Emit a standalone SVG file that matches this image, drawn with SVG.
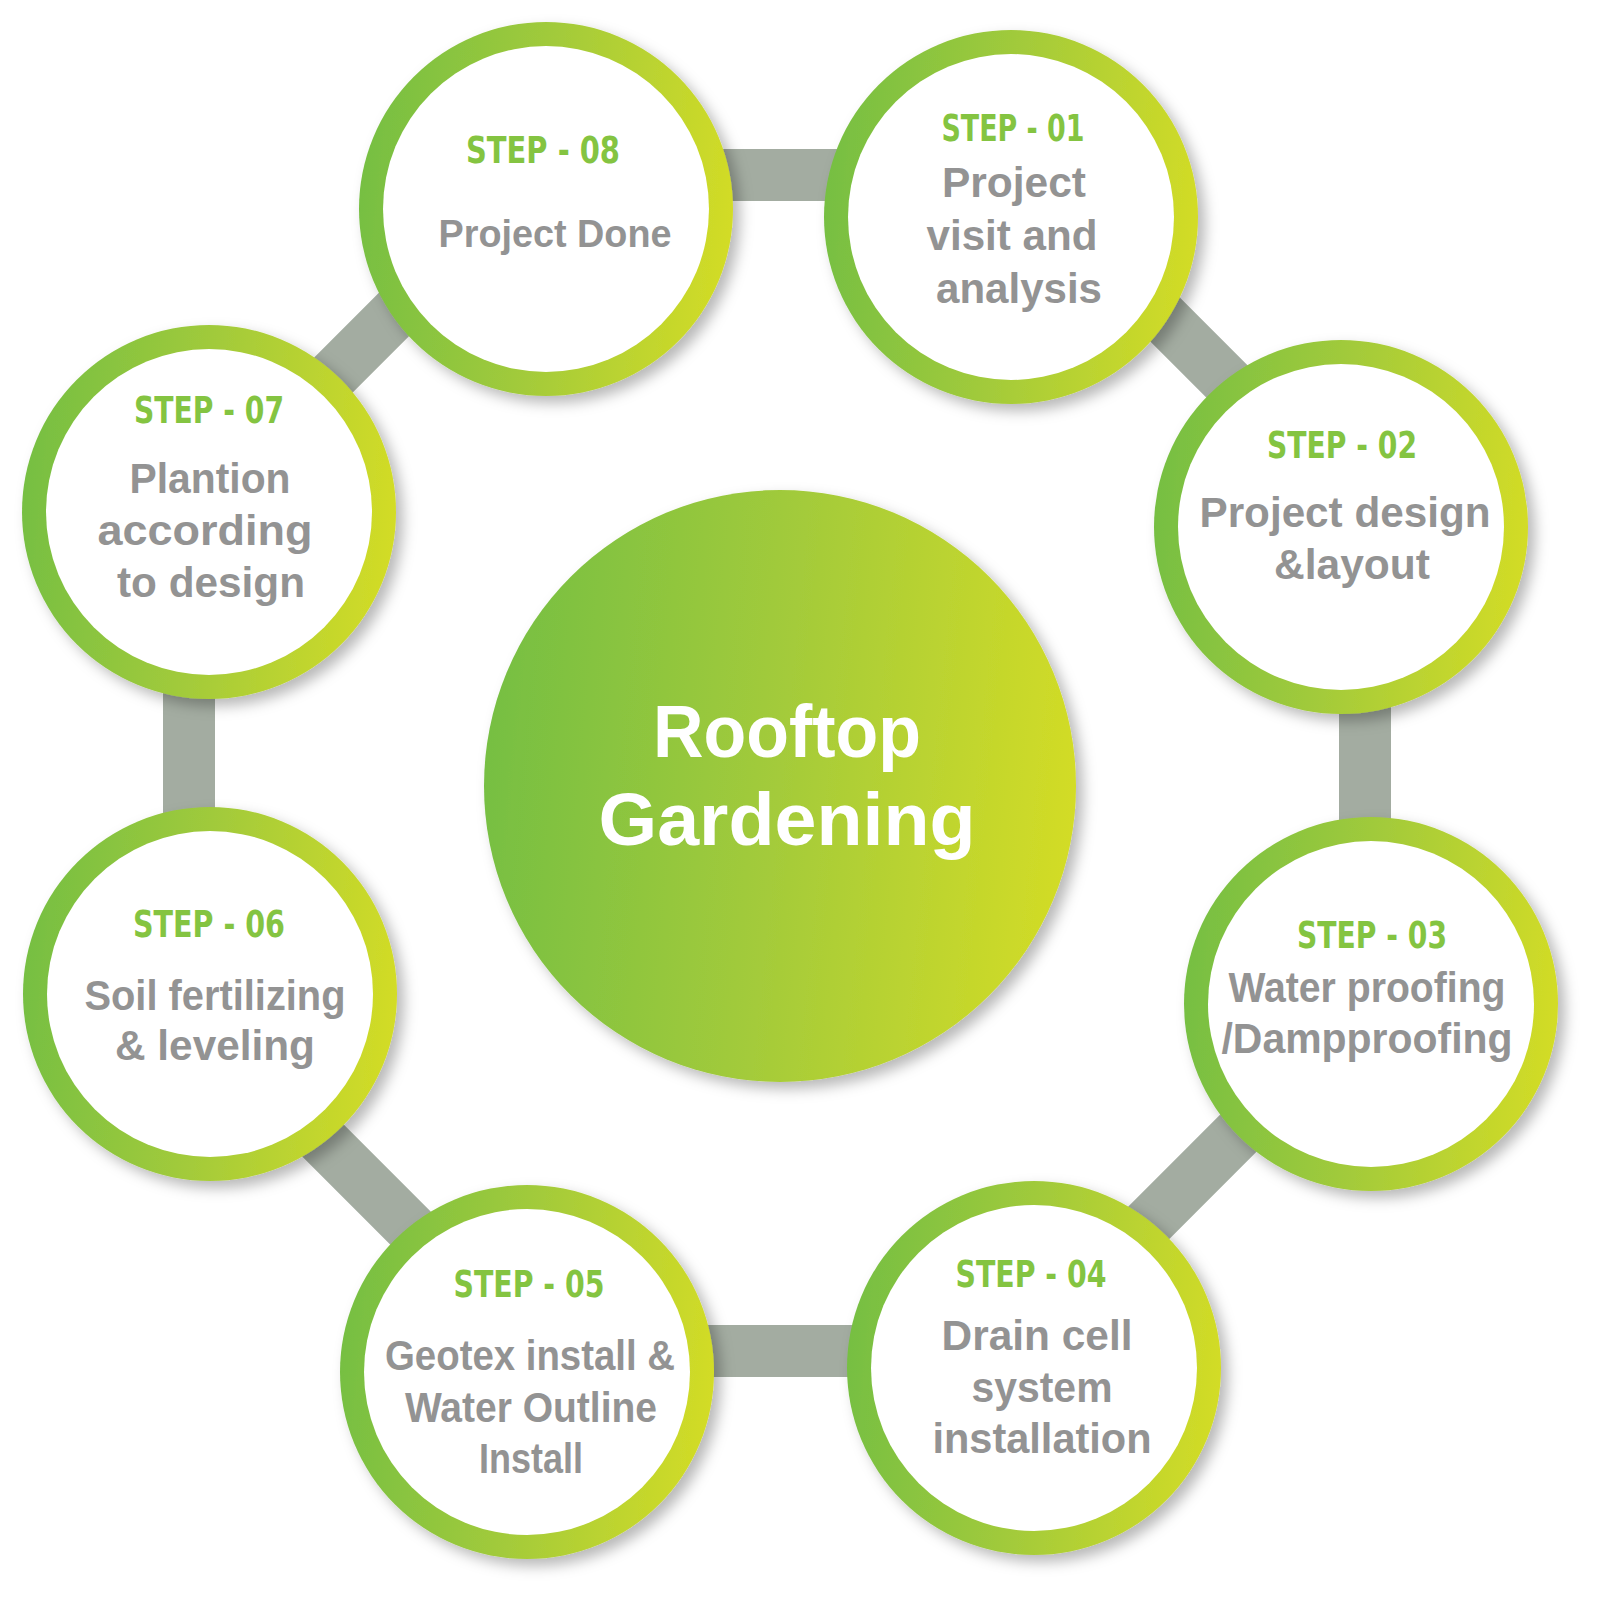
<svg xmlns="http://www.w3.org/2000/svg" width="1600" height="1603" viewBox="0 0 1600 1603">
<defs>
<linearGradient id="grad" x1="0" y1="0.45" x2="1" y2="0.55">
<stop offset="0" stop-color="#76bf43"/>
<stop offset="0.5" stop-color="#a4cb3a"/>
<stop offset="1" stop-color="#d3dc26"/>
</linearGradient>
<filter id="sh" x="-20%" y="-20%" width="140%" height="140%">
<feDropShadow dx="7" dy="7" stdDeviation="7" flood-color="#000" flood-opacity="0.28"/>
</filter>
<style>
.ring{fill:url(#grad)}
.inner{fill:#ffffff}
.step{font-family:"DejaVu Sans Condensed","Liberation Sans",sans-serif;font-weight:bold;font-size:37px;fill:#84c441;text-anchor:middle}
.body{font-family:"Liberation Sans",Arial,sans-serif;font-weight:bold;font-size:42px;fill:#939393;text-anchor:middle}
.title{font-family:"Liberation Sans",Arial,sans-serif;font-weight:bold;font-size:74px;fill:#ffffff;text-anchor:middle}
.bar{fill:none;stroke:#a3aca1;stroke-width:52}
</style>
</defs>
<rect width="1600" height="1603" fill="#ffffff"/>
<g id="connectors">
<polygon class="bar" points="533.4,175 1020.6,175 1365,519.4 1365,1006.6 1020.6,1351 533.4,1351 189,1006.6 189,519.4"/>
</g>
<g id="center">
<circle cx="780" cy="786" r="296" class="ring" filter="url(#sh)"/>
<text class="title" x="787" y="757" textLength="268" lengthAdjust="spacingAndGlyphs">Rooftop</text>
<text class="title" x="787" y="845" textLength="377" lengthAdjust="spacingAndGlyphs">Gardening</text>
</g>
<g id="step08">
<circle cx="546" cy="209" r="187" class="ring" filter="url(#sh)"/>
<circle cx="546" cy="209" r="163" class="inner"/>
<text class="step" x="543" y="163" textLength="154" lengthAdjust="spacingAndGlyphs">STEP - 08</text>
<text class="body" x="555" y="247" style="font-size:38px" textLength="233" lengthAdjust="spacingAndGlyphs">Project Done</text>
</g>
<g id="step01">
<circle cx="1011" cy="217" r="187" class="ring" filter="url(#sh)"/>
<circle cx="1011" cy="217" r="163" class="inner"/>
<text class="step" x="1013" y="141" textLength="143" lengthAdjust="spacingAndGlyphs">STEP - 01</text>
<text class="body" x="1014" y="197" textLength="144" lengthAdjust="spacingAndGlyphs">Project</text>
<text class="body" x="1012" y="250" textLength="171" lengthAdjust="spacingAndGlyphs">visit and</text>
<text class="body" x="1019" y="303" textLength="166" lengthAdjust="spacingAndGlyphs">analysis</text>
</g>
<g id="step02">
<circle cx="1341" cy="527" r="187" class="ring" filter="url(#sh)"/>
<circle cx="1341" cy="527" r="163" class="inner"/>
<text class="step" x="1342" y="458" textLength="150" lengthAdjust="spacingAndGlyphs">STEP - 02</text>
<text class="body" x="1345" y="527" textLength="291" lengthAdjust="spacingAndGlyphs">Project design</text>
<text class="body" x="1352" y="579" textLength="156" lengthAdjust="spacingAndGlyphs">&amp;layout</text>
</g>
<g id="step03">
<circle cx="1371" cy="1004" r="187" class="ring" filter="url(#sh)"/>
<circle cx="1371" cy="1004" r="163" class="inner"/>
<text class="step" x="1372" y="948" textLength="150" lengthAdjust="spacingAndGlyphs">STEP - 03</text>
<text class="body" x="1367" y="1002" textLength="277" lengthAdjust="spacingAndGlyphs">Water proofing</text>
<text class="body" x="1367" y="1053" textLength="291" lengthAdjust="spacingAndGlyphs">/Dampproofing</text>
</g>
<g id="step04">
<circle cx="1034" cy="1368" r="187" class="ring" filter="url(#sh)"/>
<circle cx="1034" cy="1368" r="163" class="inner"/>
<text class="step" x="1031" y="1287" textLength="151" lengthAdjust="spacingAndGlyphs">STEP - 04</text>
<text class="body" x="1037" y="1350" textLength="191" lengthAdjust="spacingAndGlyphs">Drain cell</text>
<text class="body" x="1042" y="1402" textLength="141" lengthAdjust="spacingAndGlyphs">system</text>
<text class="body" x="1042" y="1453" textLength="219" lengthAdjust="spacingAndGlyphs">installation</text>
</g>
<g id="step05">
<circle cx="527" cy="1372" r="187" class="ring" filter="url(#sh)"/>
<circle cx="527" cy="1372" r="163" class="inner"/>
<text class="step" x="529" y="1297" textLength="151" lengthAdjust="spacingAndGlyphs">STEP - 05</text>
<text class="body" x="530" y="1370" textLength="290" lengthAdjust="spacingAndGlyphs">Geotex install &amp;</text>
<text class="body" x="531" y="1422" textLength="252" lengthAdjust="spacingAndGlyphs">Water Outline</text>
<text class="body" x="531" y="1473" textLength="104" lengthAdjust="spacingAndGlyphs">Install</text>
</g>
<g id="step06">
<circle cx="210" cy="994" r="187" class="ring" filter="url(#sh)"/>
<circle cx="210" cy="994" r="163" class="inner"/>
<text class="step" x="209" y="937" textLength="152" lengthAdjust="spacingAndGlyphs">STEP - 06</text>
<text class="body" x="215" y="1010" textLength="261" lengthAdjust="spacingAndGlyphs">Soil fertilizing</text>
<text class="body" x="215" y="1060" textLength="200" lengthAdjust="spacingAndGlyphs">&amp; leveling</text>
</g>
<g id="step07">
<circle cx="209" cy="512" r="187" class="ring" filter="url(#sh)"/>
<circle cx="209" cy="512" r="163" class="inner"/>
<text class="step" x="209" y="423" textLength="150" lengthAdjust="spacingAndGlyphs">STEP - 07</text>
<text class="body" x="210" y="493" textLength="161" lengthAdjust="spacingAndGlyphs">Plantion</text>
<text class="body" x="205" y="545" textLength="215" lengthAdjust="spacingAndGlyphs">according</text>
<text class="body" x="211" y="597" textLength="188" lengthAdjust="spacingAndGlyphs">to design</text>
</g>
</svg>
